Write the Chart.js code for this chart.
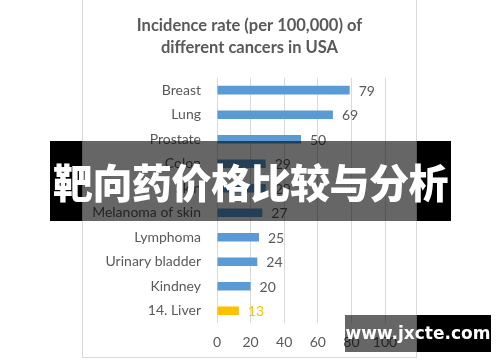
<!DOCTYPE html>
<html>
<head>
<meta charset="utf-8">
<script src="https://cdn.jsdelivr.net/npm/chart.js@4.4.0/dist/chart.umd.min.js"></script>
<style>
  html,body{margin:0;padding:0;background:#fff;width:500px;height:362px;overflow:hidden;}
  #panel{position:absolute;left:82px;top:-1px;width:333px;height:357px;border:1px solid #d9d9d9;background:#fff;}
  .blk{position:absolute;background:#000;}
  .dim{position:absolute;background:rgba(0,0,0,0.6);}
  #bandText{position:absolute;left:50px;top:141px;width:401px;height:80px;line-height:80px;text-align:center;
    color:#fff;font-family:"Noto Sans CJK SC";font-weight:900;font-size:40px;letter-spacing:-0.5px;white-space:nowrap;}
  #wmText{position:absolute;left:345px;top:315px;width:146px;height:37px;line-height:37px;text-align:center;
    color:#fff;font-family:"DejaVu Sans";font-weight:bold;font-size:17px;white-space:nowrap;}
</style>
</head>
<body>
<div id="panel"><canvas id="c" width="333" height="357"></canvas></div>
<div class="blk" style="left:50px;top:141px;width:32px;height:80px"></div>
<div class="dim" style="left:82px;top:141px;width:335px;height:80px"></div>
<div class="blk" style="left:417px;top:141px;width:34px;height:80px"></div>
<div id="bandText">靶向药价格比较与分析</div>
<div class="dim" style="left:345px;top:315px;width:72px;height:37px"></div>
<div class="blk" style="left:417px;top:315px;width:74px;height:37px"></div>
<div id="wmText">www.jxcte.com</div>
<script>
const categories = ['Breast','Lung','Prostate','Colon','Skin','Melanoma of skin','Lymphoma','Urinary bladder','Kindney','14. Liver'];
const rates = [79,69,50,29,29,27,25,24,20,13];
const xTicks = [0,20,40,60,80,100];
const titleLines = ['Incidence rate (per 100,000) of','different cancers in USA'];

const BLUE = '#5b9bd5', GOLD = '#ffc000', GREY = '#595959';
const colors = categories.map(c => c === '14. Liver' ? GOLD : BLUE);
const labelColors = categories.map(c => c === '14. Liver' ? GOLD : GREY);
const FONT = 'Lato';

// value labels at bar ends
const valueLabels = {
  id:'valueLabels',
  afterDatasetsDraw(chart){
    const ctx = chart.ctx, meta = chart.getDatasetMeta(0);
    ctx.save();
    ctx.font = '14px ' + FONT;
    ctx.textAlign = 'left'; ctx.textBaseline = 'middle';
    meta.data.forEach((bar,i)=>{
      ctx.fillStyle = labelColors[i];
      ctx.fillText(String(rates[i]), bar.x + 9, bar.y + 1);
    });
    ctx.restore();
  }
};

new Chart(document.getElementById('c').getContext('2d'), {
  type:'bar',
  data:{ labels:categories, datasets:[{ data:rates, backgroundColor:colors, categoryPercentage:1, barPercentage:0.35 }] },
  options:{
    indexAxis:'y', responsive:false, animation:false,
    layout:{ padding:0 },
    plugins:{
      legend:{ display:false }, tooltip:{ enabled:false },
      title:{ display:true, text:titleLines, color:GREY, font:{ family:FONT, size:16.5, weight:'bold', lineHeight:1.3 }, padding:{ top:15, bottom:20 } }
    },
    scales:{
      x:{ min:0, max:100,
        afterBuildTicks: s => { s.ticks = xTicks.map(v=>({value:v})); },
        afterFit: s => { s.height = 34; },
        grid:{ color:'#d9d9d9', drawTicks:false }, border:{ display:false },
        ticks:{ color:GREY, font:{ family:FONT, size:14 }, padding:11 } },
      y:{ afterFit: s => { s.width = 134; },
        grid:{ display:false }, border:{ display:false },
        ticks:{ color:GREY, font:{ family:FONT, size:14 }, padding:8 } },
      // empty right-hand gutter so the plot ends at 100 while the title stays centred
      gutter:{ axis:'y', position:'right', afterFit: s => { s.width = 31; },
        grid:{ display:false }, border:{ display:false }, ticks:{ display:false } }
    }
  },
  plugins:[valueLabels]
});
</script>
</body>
</html>
